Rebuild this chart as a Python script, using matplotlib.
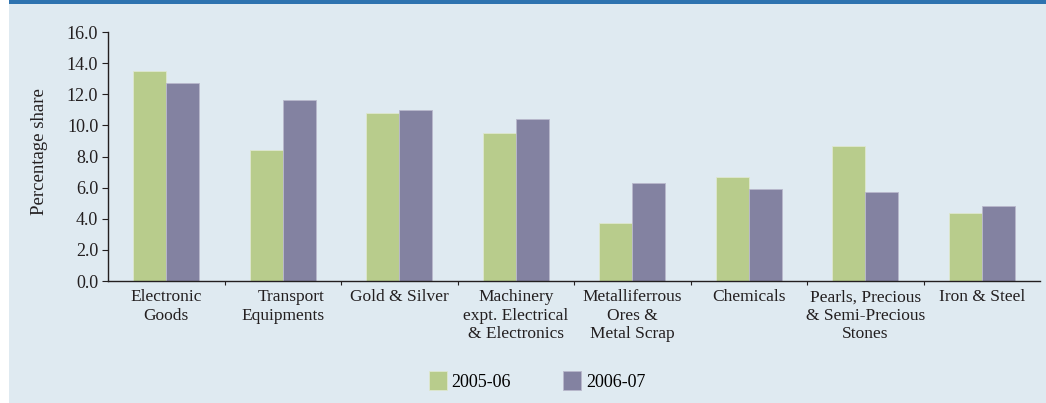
import numpy as np
import matplotlib.pyplot as plt
from matplotlib.patches import Rectangle

# Dados
categorias = ['Electronic\nGoods', 'Transport\nEquipments', 'Gold & Silver',
              'Machinery\nexpt. Electrical\n& Electronics', 'Metalliferrous\nOres &\nMetal Scrap',
              'Chemicals', 'Pearls, Precious\n& Semi-Precious\nStones', 'Iron & Steel']
share_2005_06 = [13.5, 8.4, 10.8, 9.5, 3.7, 6.7, 8.7, 4.4]
share_2006_07 = [12.7, 11.6, 11.0, 10.4, 6.3, 5.9, 5.7, 4.8]

plt.rcParams['font.family'] = ['Liberation Serif', 'DejaVu Serif']

cor_fundo = '#dfeaf1'
cor_verde = '#b8cc8c'
cor_roxo = '#8382a1'
cor_texto = '#231f20'

fig = plt.figure(figsize=(10.46, 4.03), dpi=100)
fig.patch.set_facecolor('white')

# painel de fundo e faixa azul no topo
fundo = fig.add_axes([0, 0, 1, 1], zorder=-10)
fundo.set_axis_off()
fundo.set_xlim(0, 1)
fundo.set_ylim(0, 1)
fundo.add_patch(Rectangle((9/1046, 0), 1, 1, facecolor=cor_fundo, edgecolor='none'))
fundo.add_patch(Rectangle((9/1046, 1 - 4/403), 1, 4/403, facecolor='#2e73b0', edgecolor='none'))

ax = fig.add_axes([108/1046, 122/403, 932/1046, 249/403])
ax.set_facecolor('none')

x = np.arange(len(categorias))
largura = 0.285
ax.bar(x - largura/2, share_2005_06, largura, color=cor_verde, label='2005-06',
       edgecolor='#dfe8cf', linewidth=0.6)
ax.bar(x + largura/2, share_2006_07, largura, color=cor_roxo, label='2006-07',
       edgecolor='#b9b8cc', linewidth=0.6)

ax.set_xlim(-0.5, len(categorias) - 0.5)
ax.set_ylim(0, 16)
ax.set_yticks(np.arange(0, 16.1, 2))
ax.set_yticklabels([f'{v:.1f}' for v in np.arange(0, 16.1, 2)], fontsize=13, color=cor_texto)
ax.set_xticks(x)
rotulos = ax.set_xticklabels(categorias, fontsize=12.5, color=cor_texto, linespacing=1.2)
rotulos[1].set_multialignment('right')
ax.set_xticks(np.arange(0.5, len(categorias) - 0.5, 1), minor=True)
ax.tick_params(axis='x', which='major', length=0, pad=6)
ax.tick_params(axis='x', which='minor', length=3, width=0.8, color=cor_texto)
ax.tick_params(axis='y', length=4, width=0.8, color=cor_texto, pad=3)

for lado in ['top', 'right']:
    ax.spines[lado].set_visible(False)
for lado in ['left', 'bottom']:
    ax.spines[lado].set_color(cor_texto)
    ax.spines[lado].set_linewidth(1.0)

ax.set_ylabel('Percentage share', fontsize=13.5, color=cor_texto)
ax.yaxis.set_label_coords(-0.064, 0.52)

fig.legend(loc='center', bbox_to_anchor=(537/1046, 1 - 381/403), ncol=2, frameon=False,
           fontsize=13, handlelength=1.0, handleheight=1.2, handletextpad=0.25,
           columnspacing=2.9)

plt.savefig('out.png', dpi=100, facecolor=fig.get_facecolor())
